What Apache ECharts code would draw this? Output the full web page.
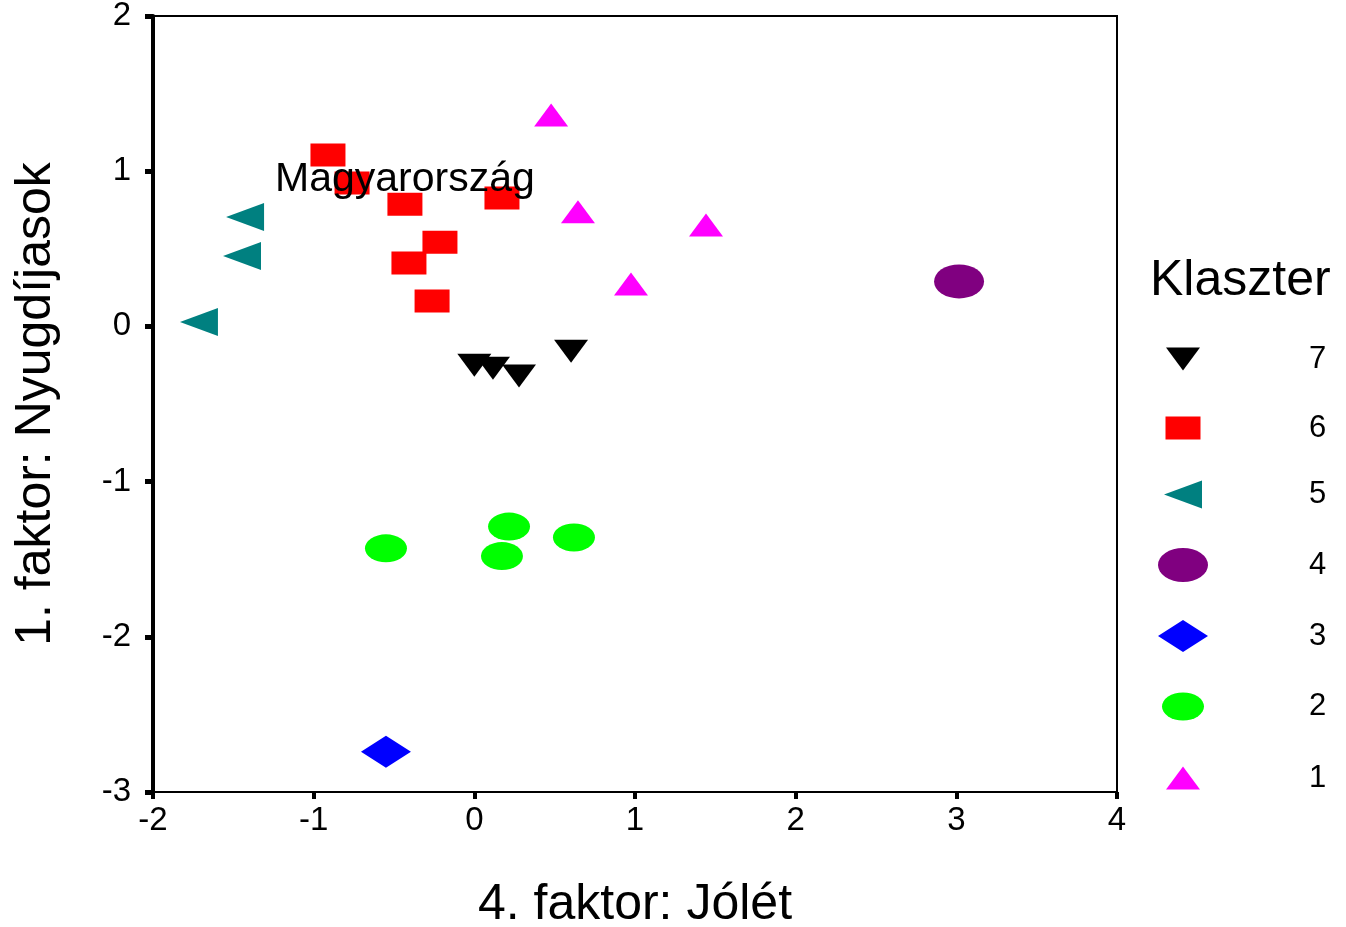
<!DOCTYPE html>
<html>
<head>
<meta charset="utf-8">
<script src="https://cdn.jsdelivr.net/npm/echarts@6/dist/echarts.min.js"></script>
<style>
html,body{margin:0;padding:0;background:#fff;}
#chart{width:1346px;height:927px;}
</style>
</head>
<body>
<div id="chart"></div>
<script>
// ---- data ----
var xTicks = [-2, -1, 0, 1, 2, 3, 4];
var yTicks = [-3, -2, -1, 0, 1, 2];
var clusterNames = ['7', '6', '5', '4', '3', '2', '1'];

var c7x = [0.0, 0.116, 0.278, 0.602];
var c7y = [-0.25, -0.27, -0.32, -0.16];
var c6x = [-0.911, -0.761, -0.432, 0.172, -0.214, -0.407, -0.263];
var c6y = [1.104, 0.924, 0.787, 0.827, 0.543, 0.409, 0.164];
var c5x = [-1.427, -1.446, -1.714];
var c5y = [0.705, 0.454, 0.028];
var c4x = [3.017];
var c4y = [0.29];
var c3x = [-0.55];
var c3y = [-2.74];
var c2x = [-0.55, 0.216, 0.172, 0.62];
var c2y = [-1.43, -1.29, -1.48, -1.36];
var c1x = [0.478, 0.645, 0.975, 1.442];
var c1y = [1.362, 0.738, 0.274, 0.654];

var pointLabels = {'6': {2: 'Magyarország'}};

// ---- styles ----
var ELLIPSE = 'path://M0,5 A5,5 0 1,1 10,5 A5,5 0 1,1 0,5 Z';
var styles = {
  '7': {color: '#000000', symbol: 'path://M0,0 L10,0 L5,7 Z', size: [34, 23]},
  '6': {color: '#ff0000', symbol: 'rect', size: [35, 23]},
  '5': {color: '#008080', symbol: 'path://M0,5 L10,0 L10,10 Z', size: [38, 28]},
  '4': {color: '#800080', symbol: ELLIPSE, size: [50, 34]},
  '3': {color: '#0000ff', symbol: 'diamond', size: [50, 32]},
  '2': {color: '#00ff00', symbol: ELLIPSE, size: [42, 28]},
  '1': {color: '#ff00ff', symbol: 'path://M5,0 L10,7 L0,7 Z', size: [34, 23]}
};
var legendY = [355, 424, 493, 565, 636, 705, 774];

var xs = {'7': c7x, '6': c6x, '5': c5x, '4': c4x, '3': c3x, '2': c2x, '1': c1x};
var ys = {'7': c7y, '6': c6y, '5': c5y, '4': c4y, '3': c3y, '2': c2y, '1': c1y};

var FONT = '"Liberation Sans", Arial, sans-serif';

var series = clusterNames.map(function (name) {
  var st = styles[name];
  var data = xs[name].map(function (x, i) {
    var d = {value: [x, ys[name][i]]};
    if (pointLabels[name] && pointLabels[name][i]) {
      d.label = {
        show: true, formatter: pointLabels[name][i], position: 'inside',
        offset: [0, -25], color: '#000', fontSize: 41, fontFamily: FONT
      };
    }
    return d;
  });
  return {
    name: name, type: 'scatter', data: data,
    symbol: st.symbol, symbolSize: st.size,
    itemStyle: {color: st.color, opacity: 1},
    emphasis: {disabled: true}
  };
});

var legends = clusterNames.map(function (name, i) {
  var st = styles[name];
  return {
    data: [name], orient: 'vertical', padding: 0,
    left: 1183 - st.size[0] / 2, top: legendY[i] - st.size[1] / 2,
    itemWidth: st.size[0], itemHeight: st.size[1], symbolKeepAspect: false,
    textStyle: {color: '#000', fontSize: 31, fontFamily: FONT,
      padding: [0, 0, 0, 1309 - (1183 + st.size[0] / 2) - 5]},
    selectedMode: false
  };
});

var chart = echarts.init(document.getElementById('chart'));
chart.setOption({
  animation: false,
  backgroundColor: '#ffffff',
  title: {text: 'Klaszter', left: 1150, top: 256, padding: 0,
    textStyle: {fontSize: 50, fontWeight: 'normal', color: '#000', fontFamily: FONT}},
  legend: legends,
  grid: {left: 153, right: 229, top: 16, bottom: 135, show: true,
    outerBoundsMode: 'none', containLabel: false,
    borderColor: '#000', borderWidth: 2, backgroundColor: 'transparent'},
  xAxis: {
    type: 'value', min: xTicks[0], max: xTicks[xTicks.length - 1], interval: 1,
    name: '4. faktor: Jólét', nameLocation: 'middle', nameGap: 88,
    nameTextStyle: {fontSize: 50, color: '#000', fontFamily: FONT},
    axisLine: {show: true, onZero: false, lineStyle: {color: '#000', width: 2}},
    axisTick: {show: true, length: 7, lineStyle: {color: '#000', width: 4}},
    axisLabel: {color: '#000', fontSize: 33, fontFamily: FONT, margin: 12},
    splitLine: {show: false}
  },
  yAxis: {
    type: 'value', min: yTicks[0], max: yTicks[yTicks.length - 1], interval: 1,
    name: '1. faktor: Nyugdíjasok', nameLocation: 'middle', nameGap: 92,
    nameTextStyle: {fontSize: 50, color: '#000', fontFamily: FONT},
    axisLine: {show: true, onZero: false, lineStyle: {color: '#000', width: 4}},
    axisTick: {show: true, length: 8, lineStyle: {color: '#000', width: 5}},
    axisLabel: {color: '#000', fontSize: 33, fontFamily: FONT, margin: 22},
    splitLine: {show: false}
  },
  series: series
});
</script>
</body>
</html>
